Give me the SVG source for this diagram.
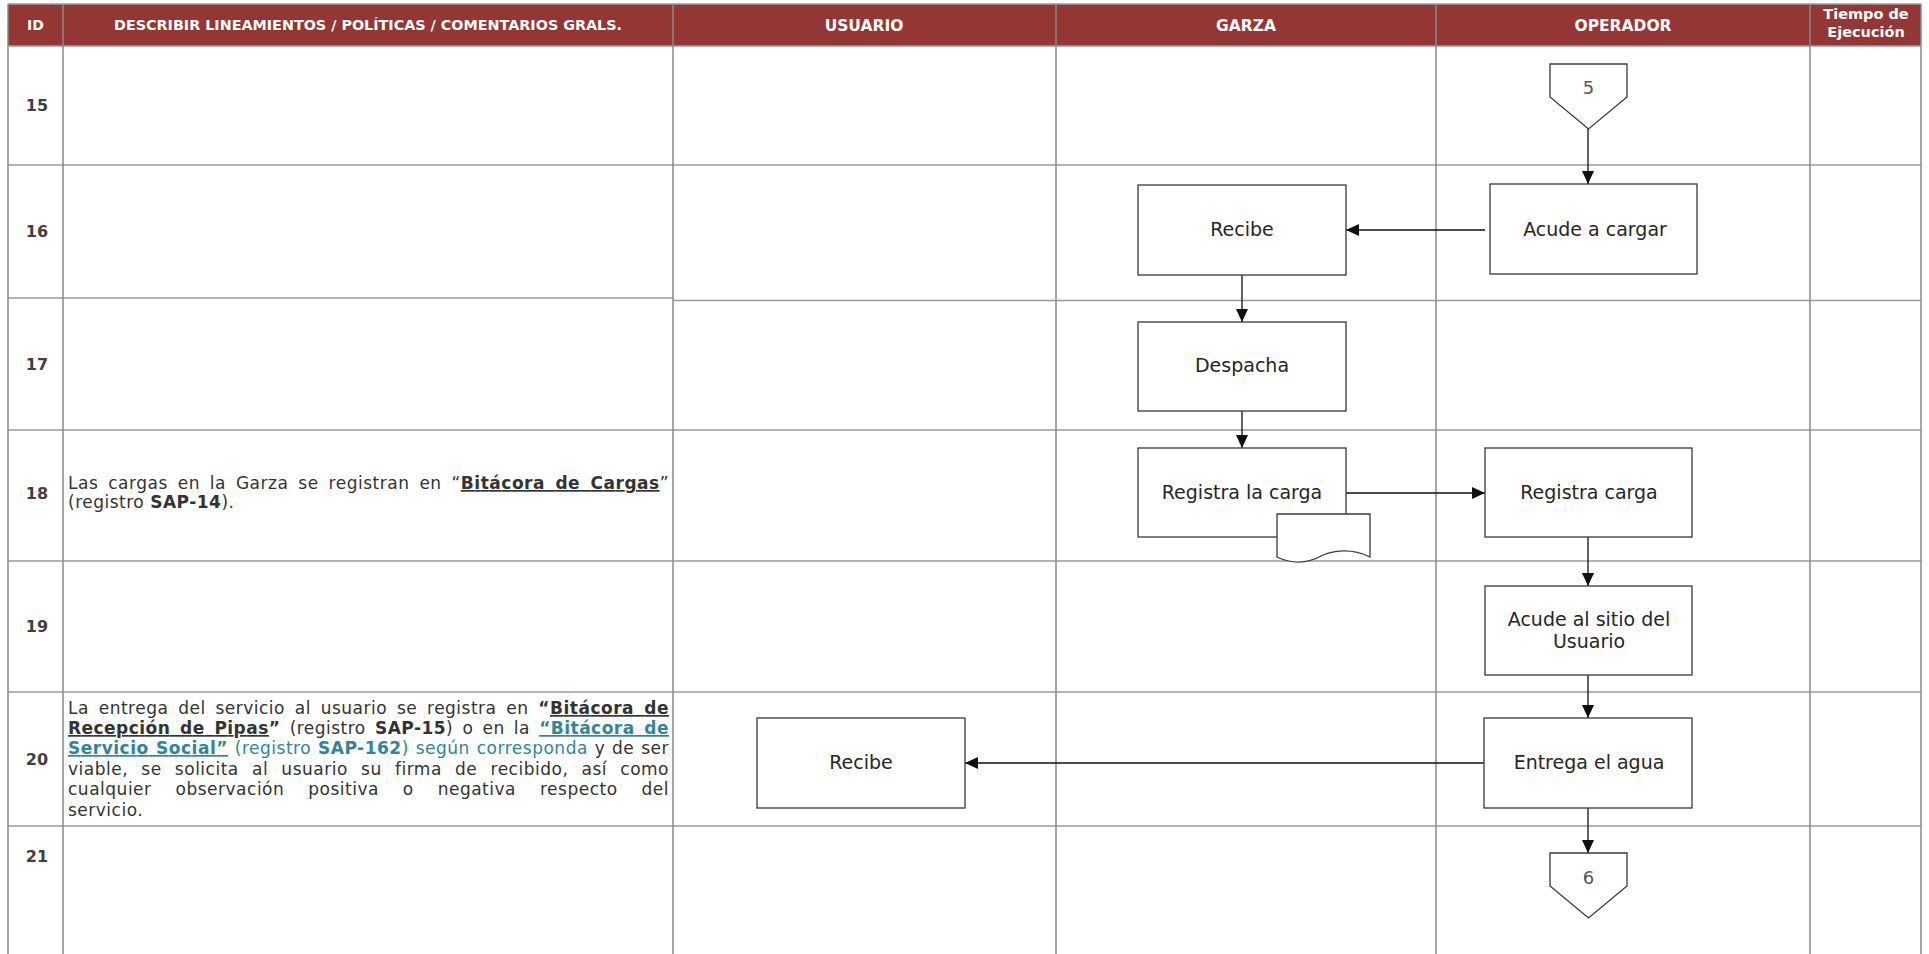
<svg xmlns="http://www.w3.org/2000/svg" width="1929" height="954" viewBox="0 0 1929 954">
<style>
.hdr{fill:#943634}
.grid{stroke:#9c9c9c;stroke-width:1.5;fill:none}
.vgrid{stroke:#8a8a8a;stroke-width:1.5;fill:none}
.ht{font-family:"DejaVu Sans",sans-serif;font-weight:bold;fill:#fff;text-anchor:middle}
.id{font-family:"DejaVu Sans",sans-serif;font-weight:bold;font-size:16px;fill:#404040;text-anchor:middle}
.box{fill:#fff;stroke:#3a3a3a;stroke-width:1.3}
.lbl{font-family:"DejaVu Sans",sans-serif;font-size:19px;fill:#262626;text-anchor:middle}
.conn{font-family:"DejaVu Sans",sans-serif;font-size:18px;fill:#555;text-anchor:middle}
.desc{font-family:"DejaVu Sans",sans-serif;font-size:17px;letter-spacing:0.5px;fill:#333}
.b{font-weight:bold}
.u{text-decoration:underline}
.teal{fill:#31849b}
.edge{stroke:#111;stroke-width:1.3;fill:none;marker-end:url(#arr)}
</style>
<defs>
<marker id="arr" markerUnits="userSpaceOnUse" markerWidth="14" markerHeight="12" refX="13" refY="6" orient="auto">
<path d="M0,0 L13,6 L0,12 z" fill="#111"/>
</marker>
</defs>
<rect width="1929" height="954" fill="#fff"/>
<g id="table">
<rect class="hdr" x="8" y="4" width="1913" height="42"/>
<g class="grid">
<line x1="8" y1="4" x2="1921" y2="4"/>
<line x1="8" y1="46" x2="1921" y2="46"/>
<line x1="8" y1="165" x2="1921" y2="165"/>
<line x1="8" y1="298" x2="673" y2="298"/>
<line x1="673" y1="300.5" x2="1921" y2="300.5"/>
<line x1="8" y1="430" x2="1921" y2="430"/>
<line x1="8" y1="561" x2="1921" y2="561"/>
<line x1="8" y1="692" x2="1921" y2="692"/>
<line x1="8" y1="826" x2="1921" y2="826"/>
</g>
<g class="vgrid">
<line x1="8" y1="4" x2="8" y2="954"/>
<line x1="63" y1="4" x2="63" y2="954"/>
<line x1="673" y1="4" x2="673" y2="954"/>
<line x1="1056" y1="4" x2="1056" y2="954"/>
<line x1="1436" y1="4" x2="1436" y2="954"/>
<line x1="1810" y1="4" x2="1810" y2="954"/>
<line x1="1921" y1="4" x2="1921" y2="954"/>
</g>
<text class="ht" x="35.5" y="30" font-size="14">ID</text>
<text class="ht" x="368" y="30" font-size="13.5" textLength="508" lengthAdjust="spacingAndGlyphs">DESCRIBIR LINEAMIENTOS / POLÍTICAS / COMENTARIOS GRALS.</text>
<text class="ht" x="864" y="31" font-size="15.5">USUARIO</text>
<text class="ht" x="1246" y="31" font-size="15.5">GARZA</text>
<text class="ht" x="1623" y="31" font-size="15.5">OPERADOR</text>
<text class="ht" x="1866" y="19" font-size="14.5">Tiempo de</text>
<text class="ht" x="1866" y="37" font-size="14.5">Ejecución</text>
<text class="id" x="37" y="111">15</text>
<text class="id" x="37" y="237">16</text>
<text class="id" x="37" y="370">17</text>
<text class="id" x="37" y="499">18</text>
<text class="id" x="37" y="632">19</text>
<text class="id" x="37" y="765">20</text>
<text class="id" x="37" y="862">21</text>
</g>
<g id="desc18">
<text class="desc" x="68" y="489" word-spacing="4" textLength="601" lengthAdjust="spacing">Las cargas en la Garza se registran en “<tspan class="b u">Bitácora de Cargas</tspan>”</text>
<text class="desc" x="68" y="508">(registro <tspan class="b">SAP-14</tspan>).</text>
</g>
<g id="desc20">
<text class="desc" x="68" y="714" word-spacing="3.9" textLength="601" lengthAdjust="spacing">La entrega del servicio al usuario se registra en <tspan class="b">“</tspan><tspan class="b u">Bitácora de</tspan></text>
<text class="desc" x="68" y="734" word-spacing="3.3" textLength="601" lengthAdjust="spacing"><tspan class="b u">Recepción de Pipas</tspan><tspan class="b">”</tspan> (registro <tspan class="b">SAP-15</tspan>) o en la <tspan class="teal b u">“Bitácora de</tspan></text>
<text class="desc" x="68" y="754" word-spacing="0.9" textLength="601" lengthAdjust="spacing"><tspan class="teal b u">Servicio Social”</tspan><tspan class="teal"> (registro </tspan><tspan class="teal b">SAP-162</tspan><tspan class="teal">) según corresponda</tspan> y de ser</text>
<text class="desc" x="68" y="775" word-spacing="7.3" textLength="601" lengthAdjust="spacing">viable, se solicita al usuario su firma de recibido, así como</text>
<text class="desc" x="68" y="795" word-spacing="18" textLength="601" lengthAdjust="spacing">cualquier observación positiva o negativa respecto del</text>
<text class="desc" x="68" y="816">servicio.</text>
</g>
<g id="connectors">
<line class="edge" x1="1588" y1="129" x2="1588" y2="184"/>
<line class="edge" x1="1485" y1="230" x2="1346" y2="230"/>
<line class="edge" x1="1242" y1="275" x2="1242" y2="322"/>
<line class="edge" x1="1242" y1="411" x2="1242" y2="448"/>
<line class="edge" x1="1346" y1="493" x2="1485" y2="493"/>
<line class="edge" x1="1588" y1="537" x2="1588" y2="586"/>
<line class="edge" x1="1588" y1="675" x2="1588" y2="718"/>
<line class="edge" x1="1484" y1="763" x2="965" y2="763"/>
<line class="edge" x1="1588" y1="808" x2="1588" y2="853"/>
</g>
<g id="c5">
<path class="box" d="M1550,64 H1627 V97 L1588.5,129 L1550,97 Z"/>
<text class="conn" x="1588.5" y="94">5</text>
</g>
<g id="acude_cargar">
<rect class="box" x="1490" y="184" width="207" height="90"/>
<text class="lbl" x="1595" y="236">Acude a cargar</text>
</g>
<g id="recibe_garza">
<rect class="box" x="1138" y="185" width="208" height="90"/>
<text class="lbl" x="1242" y="236">Recibe</text>
</g>
<g id="despacha">
<rect class="box" x="1138" y="322" width="208" height="89"/>
<text class="lbl" x="1242" y="372">Despacha</text>
</g>
<g id="registra_la_carga">
<rect class="box" x="1138" y="448" width="208" height="89"/>
<text class="lbl" x="1242" y="499">Registra la carga</text>
<path class="box" d="M1277,514 H1370 V557 Q1347,546 1323,555 Q1300,568 1277,557 Z"/>
</g>
<g id="registra_carga">
<rect class="box" x="1485" y="448" width="207" height="89"/>
<text class="lbl" x="1589" y="499">Registra carga</text>
</g>
<g id="acude_sitio">
<rect class="box" x="1485" y="586" width="207" height="89"/>
<text class="lbl" x="1589" y="626">Acude al sitio del</text>
<text class="lbl" x="1589" y="648">Usuario</text>
</g>
<g id="entrega_agua">
<rect class="box" x="1484" y="718" width="208" height="90"/>
<text class="lbl" x="1589" y="769">Entrega el agua</text>
</g>
<g id="recibe_usuario">
<rect class="box" x="757" y="718" width="208" height="90"/>
<text class="lbl" x="861" y="769">Recibe</text>
</g>
<g id="c6">
<path class="box" d="M1550,853 H1627 V886 L1588.5,918 L1550,886 Z"/>
<text class="conn" x="1588.5" y="884">6</text>
</g>
</svg>
